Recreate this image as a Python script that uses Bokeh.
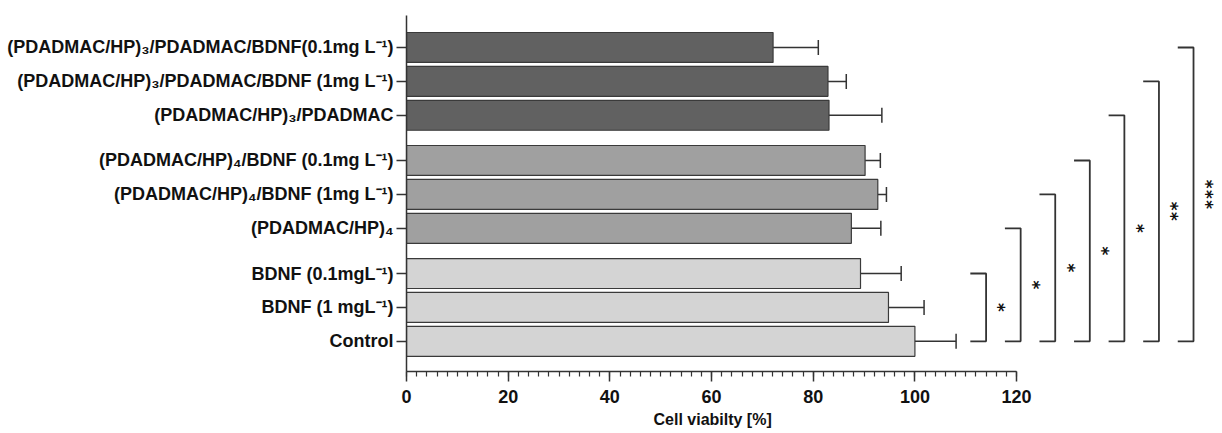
import math
from bokeh.plotting import figure
from bokeh.models import (ColumnDataSource, Range1d, FixedTicker, SingleIntervalTicker,
                          Whisker, TeeHead, Title)
from bokeh.core.properties import value
from bokeh.embed import file_html
from bokeh.resources import INLINE

# ---- data (bottom to top) ----
labels = [
    "Control",
    "BDNF (1 mgL\u207b\u00b9)",
    "BDNF (0.1mgL\u207b\u00b9)",
    "(PDADMAC/HP)\u2084",
    "(PDADMAC/HP)\u2084/BDNF (1mg L\u207b\u00b9)",
    "(PDADMAC/HP)\u2084/BDNF (0.1mg L\u207b\u00b9)",
    "(PDADMAC/HP)\u2083/PDADMAC",
    "(PDADMAC/HP)\u2083/PDADMAC/BDNF (1mg L\u207b\u00b9)",
    "(PDADMAC/HP)\u2083/PDADMAC/BDNF(0.1mg L\u207b\u00b9)",
]
means = [100.0, 94.8, 89.3, 87.5, 92.7, 90.2, 83.1, 82.9, 72.1]
sds = [8.1, 7.0, 8.0, 5.8, 1.7, 3.0, 10.4, 3.6, 8.9]
groups = [0, 0, 0, 1, 1, 1, 2, 2, 2]
group_colors = ["#d4d4d4", "#a0a0a0", "#616161"]

# significance vs Control, for bars 2..8 (bottom to top)
sig_targets = [2, 3, 4, 5, 6, 7, 8]
sig_marks = ["*", "*", "*", "*", "*", "**", "***"]

x_label = "Cell viabilty [%]"

# ---- layout ----
pos = [3 * i + g for i, g in enumerate(groups)]
upper = [m + s for m, s in zip(means, sds)]
colors = [group_colors[g] for g in groups]

src = ColumnDataSource(dict(pos=pos, mean=means, upper=upper, color=colors))

p = figure(width=1222, height=433, output_backend="svg", toolbar_location=None,
           x_range=Range1d(0, 160.5), y_range=Range1d(-2.67, 28.83),
           min_border_left=406, min_border_right=0, min_border_top=15, min_border_bottom=62)
p.outline_line_color = None
p.xgrid.visible = False
p.ygrid.visible = False
p.background_fill_color = "white"

p.hbar(y="pos", left=0, right="mean", height=2.65, fill_color="color",
       line_color="#3a3a3a", line_width=1.2, source=src)

wh = Whisker(source=src, base="pos", lower="mean", upper="upper", dimension="width",
             line_color="#333333", line_width=1.5, lower_head=None,
             upper_head=TeeHead(size=15, line_color="#333333", line_width=1.5))
p.add_layout(wh)

# significance brackets
xs, ys, sx, sy, st = [], [], [], [], []
for k, (t, mark) in enumerate(zip(sig_targets, sig_marks)):
    xv = 114 + 6.8 * k
    xl = xv - 3.1
    yt = pos[t]
    yb = pos[0]
    xs.append([xl, xv, xv, xl])
    ys.append([yt, yt, yb, yb])
    sx.append(xv + 3.6)
    sy.append((yt + yb) / 2)
    st.append(mark)
p.multi_line(xs, ys, line_color="#333333", line_width=1.8)
p.text(x=sx, y=sy, text=st, angle=math.pi / 2, text_align="center", text_baseline="middle",
       text_font=value("DejaVu Sans Mono"), text_font_style="bold", text_font_size="17px",
       text_color="#111111")

# axes
FONT = "Liberation Sans"
xa = p.xaxis[0]
xa.bounds = (0, 120)
xa.ticker = SingleIntervalTicker(interval=20, num_minor_ticks=10)
xa.major_tick_out = 10
xa.major_tick_in = 0
xa.minor_tick_out = 5
xa.minor_tick_in = 0
xa.axis_line_width = 1.5
xa.axis_line_color = "#333333"
xa.major_tick_line_color = "#333333"
xa.major_tick_line_width = 1.5
xa.minor_tick_line_color = "#333333"
xa.minor_tick_line_width = 1.2
xa.major_label_text_font = FONT
xa.major_label_text_font_style = "bold"
xa.major_label_text_font_size = "18px"
xa.major_label_text_color = "#111111"
xa.major_label_standoff = 8

p.add_layout(Title(text=x_label, align="left", offset=247, vertical_align="bottom",
                   text_font=FONT, text_font_style="bold", text_font_size="16px",
                   text_color="#111111", standoff=7), "below")

ya = p.yaxis[0]
ya.ticker = FixedTicker(ticks=pos)
ya.major_label_overrides = {pv: lab for pv, lab in zip(pos, labels)}
ya.minor_tick_line_color = None
ya.major_tick_out = 10
ya.major_tick_in = 0
ya.axis_line_width = 1.5
ya.axis_line_color = "#333333"
ya.major_tick_line_color = "#333333"
ya.major_tick_line_width = 1.5
ya.major_label_text_font = FONT
ya.major_label_text_font_style = "bold"
ya.major_label_text_font_size = "18px"
ya.major_label_text_color = "#111111"
ya.major_label_standoff = 3

open("out.html", "w").write(file_html(p, INLINE))
